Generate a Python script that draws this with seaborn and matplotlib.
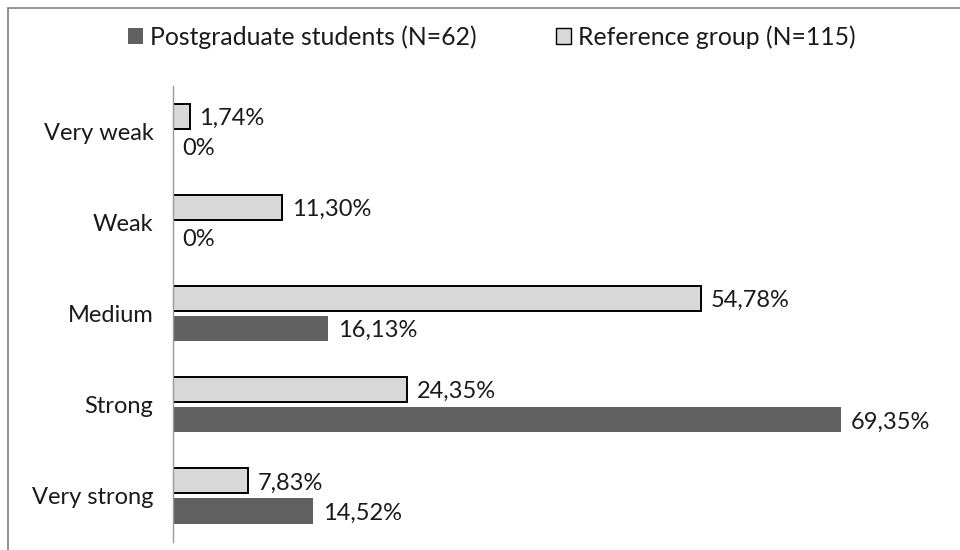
import matplotlib
matplotlib.use("Agg")
import matplotlib.pyplot as plt
import seaborn as sns
import pandas as pd
from matplotlib.patches import Rectangle, Patch

categories = ["Very weak", "Weak", "Medium", "Strong", "Very strong"]
postgrad = [0, 0, 16.13, 69.35, 14.52]
reference = [1.74, 11.30, 54.78, 24.35, 7.83]
series_names = ["Postgraduate students (N=62)", "Reference group (N=115)"]

sns.set_style("white")
plt.rcParams['font.family'] = ['Lato', 'DejaVu Sans']

df = pd.DataFrame({
    "cat": categories * 2,
    "val": reference + postgrad,
    "series": [series_names[1]] * 5 + [series_names[0]] * 5,
})

W, H = 960, 550
fig = plt.figure(figsize=(9.6, 5.5), dpi=100)
x0, x_end = 173, 173 + 80 * 9.63
ax = fig.add_axes([x0/W, 1-541.5/H, (x_end-x0)/W, (541.5-86)/H])

dark = "#606060"
light = "#d9d9d9"
sns.barplot(data=df, y="cat", x="val", hue="series", order=categories,
            hue_order=[series_names[1], series_names[0]],
            palette={series_names[1]: light, series_names[0]: dark},
            orient="h", width=0.66, ax=ax, legend=False, saturation=1)

bar_h = 0.275
for cont in ax.containers:
    for bar in cont:
        cy = bar.get_y() + bar.get_height() / 2
        bar.set_height(bar_h)
        bar.set_y(cy - bar_h / 2)

for bar in ax.containers[0]:
    bar.set_edgecolor("black")
    bar.set_linewidth(1.4)
for bar in ax.containers[1]:
    bar.set_edgecolor("none")

def fmt(v):
    return (f"{v:.2f}".replace(".", ",") + "%") if v != 0 else "0%"

for cont, vals in zip(ax.containers, [reference, postgrad]):
    labs = ax.bar_label(cont, labels=[fmt(v) for v in vals], padding=7,
                        fontsize=17, color="#1a1a1a")
    for t in labs:
        t.set_va("center_baseline")

ax.set_xlim(0, 80)
ax.set_ylim(4.5, -0.5)
ax.set_xlabel("")
ax.set_ylabel("")
ax.set_xticks([])
ax.tick_params(axis="y", length=0, pad=14, labelsize=17, labelcolor="#1a1a1a")
for s in ["top", "right", "bottom"]:
    ax.spines[s].set_visible(False)
ax.spines["left"].set_color("#999999")
ax.spines["left"].set_linewidth(1)

handles = [Patch(facecolor=dark, edgecolor="none"),
           Patch(facecolor=light, edgecolor="black", linewidth=1)]
fig.legend(handles, series_names, loc="center", bbox_to_anchor=(492/W, 1-37/H),
           ncol=2, frameon=False, fontsize=17.8, handlelength=0.6, handleheight=0.6,
           handletextpad=0.3, columnspacing=3.2, labelcolor="#1a1a1a",
           borderpad=0, borderaxespad=0)

fig.patches.append(Rectangle((8/W, -0.1), 1.0, 1-8/H + 0.1,
                             transform=fig.transFigure, fill=False,
                             edgecolor="#808080", linewidth=1.2))

fig.savefig("out.png", dpi=100)
